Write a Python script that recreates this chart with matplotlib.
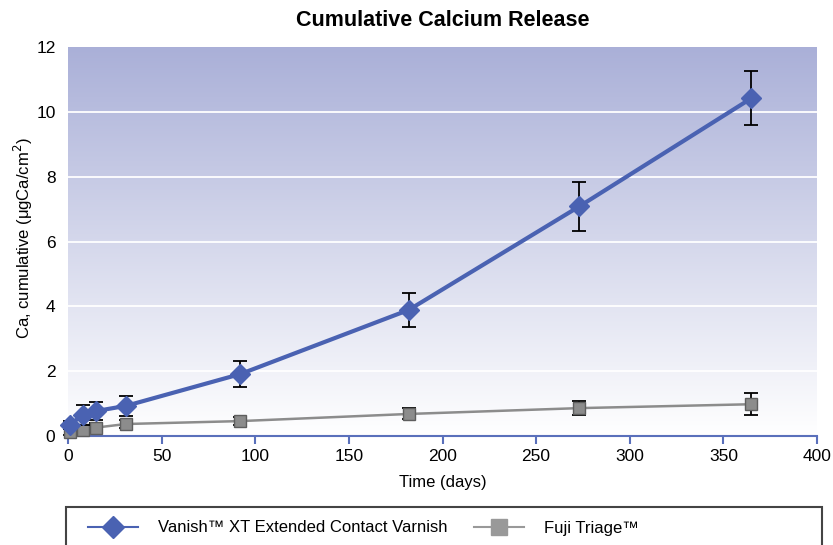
import numpy as np
import matplotlib.pyplot as plt
from matplotlib.lines import Line2D
from matplotlib.patches import Rectangle

# data
days = [1, 8, 15, 31, 92, 182, 273, 365]
vanish = [0.35, 0.65, 0.77, 0.93, 1.91, 3.89, 7.08, 10.42]
vanish_err = [0.12, 0.3, 0.28, 0.31, 0.4, 0.52, 0.77, 0.84]
fuji = [0.12, 0.17, 0.26, 0.37, 0.46, 0.68, 0.86, 0.98]
fuji_err = [0.1, 0.12, 0.13, 0.12, 0.12, 0.17, 0.22, 0.34]
xticks = [0, 50, 100, 150, 200, 250, 300, 350, 400]
yticks = [0, 2, 4, 6, 8, 10, 12]
labels = ['Vanish\u2122 XT Extended Contact Varnish', 'Fuji Triage\u2122']

plt.rcParams['font.family'] = ['Liberation Sans', 'DejaVu Sans']

blue = '#4a62b2'
gray = '#8c8c8c'
axis_blue = '#5a70bb'

fig = plt.figure(figsize=(8.33, 5.45), dpi=100)
ax = fig.add_axes([68 / 833, 109 / 545, 749 / 833, 389 / 545])

# gradient background
grad = np.linspace(0, 1, 256).reshape(-1, 1)
top = np.array([0.667, 0.690, 0.847])
bot = np.array([1.0, 1.0, 1.0])
img = top + (bot - top) * grad[:, :, None] * np.ones((1, 1, 3))
ax.imshow(img, extent=[0, 1, 0, 1], transform=ax.transAxes, aspect='auto', zorder=0)

for y in yticks[1:-1]:
    ax.axhline(y, color='white', lw=1.3, zorder=1)

ax.errorbar(days, fuji, yerr=fuji_err, color=gray, lw=1.8, marker='s', ms=9,
            mfc=gray, mec='#5e5e5e', ecolor='black', elinewidth=1.3, capsize=5,
            capthick=1.3, zorder=3, clip_on=False)
ax.errorbar(days, vanish, yerr=vanish_err, color=blue, lw=3, marker='D', ms=10,
            mfc=blue, mec=blue, ecolor='black', elinewidth=1.3, capsize=5,
            capthick=1.3, zorder=4, clip_on=False)

ax.set_xlim(0, 400)
ax.set_ylim(0, 12)
ax.set_xticks(xticks)
ax.set_yticks(yticks)
for s in ['top', 'right', 'left']:
    ax.spines[s].set_visible(False)
ax.spines['bottom'].set_color(axis_blue)
ax.spines['bottom'].set_linewidth(1.5)
ax.tick_params(axis='x', colors=axis_blue, length=6, width=1.5, labelsize=12.5,
               labelcolor='black', direction='out')
ax.tick_params(axis='y', length=0, labelsize=12.5, pad=9)

ax.set_xlabel('Time (days)', fontsize=12, labelpad=8)
fig.text(23 / 833, 1 - 238 / 545, 'Ca, cumulative (\u03bcgCa/cm$^2$)', rotation=90,
         ha='center', va='center', fontsize=12)
fig.text(443 / 833, 1 - 20 / 545, 'Cumulative Calcium Release', ha='center',
         va='center', fontsize=15.5, fontweight='bold')

# legend box below the plot, running off the bottom edge
fig.patches.append(Rectangle((66 / 833, -0.05), 756 / 833, 0.05 + 1 - 507 / 545,
                             transform=fig.transFigure, fill=False,
                             edgecolor='#444444', lw=1.5))
handles = [Line2D([], [], color=blue, lw=1.5, marker='D', ms=11, mec=blue),
           Line2D([], [], color='#999999', lw=1.5, marker='s', ms=11,
                  mfc='#999999', mec='#999999')]
fig.legend(handles, labels, loc='center left', ncol=2, frameon=False,
           bbox_to_anchor=(73 / 833, 1 - 528 / 545), fontsize=12,
           handlelength=3, handletextpad=1.2, columnspacing=1.56, numpoints=1)

fig.savefig('out.png', dpi=100)
